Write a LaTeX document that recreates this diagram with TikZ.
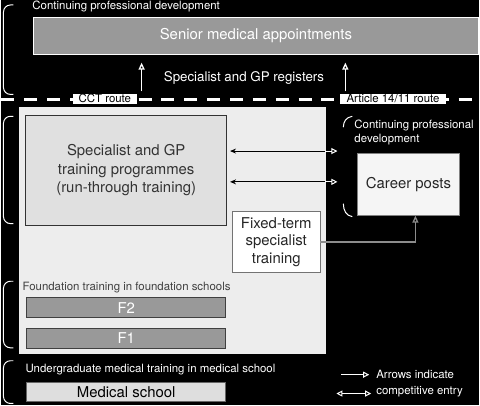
\documentclass[tikz,border=0pt]{standalone}
\usepackage{fontspec}
\setmainfont{TeX Gyre Heros}
\usetikzlibrary{positioning,arrows.meta}

\begin{document}
\begin{tikzpicture}[x=1pt, y=-1pt, node distance=10pt, font=\fontsize{15}{18.5}\selectfont]
    % Define styles
    \tikzstyle{bigbox} = [draw, rectangle, anchor=north west, inner sep=0pt, align=center, line width=1pt]
    \tikzstyle{fbox} = [bigbox, minimum width=200, minimum height=20, fill=black!40, draw=black!75, text=white]
    \tikzstyle{smalltext} = [inner sep=0pt, text=white!90, font=\fontsize{11.5}{14}\selectfont]
    \tikzstyle{routelabel} = [fill=white, text=black, inner sep=0pt, minimum height=10, text height=8, text depth=2, font=\fontsize{11.5}{14}\selectfont]
    \tikzstyle{bracketline} = [white!75, line width=1pt, rounded corners=7pt]
    \tikzstyle{uparrow} = [-{Triangle[open, length=7pt, width=6pt]}, white!90, line width=1.3pt]
    \tikzstyle{compleft} = [-{Stealth[length=6pt, width=5pt]}, black, line width=1pt]
    \tikzstyle{compright} = [-{Triangle[open, length=6pt, width=6pt]}, white!90, line width=1pt]
    \tikzstyle{entry} = [-{Triangle[open, length=7pt, width=6pt]}, black!45, line width=1.3pt]

    % Background
    \fill[black] (0,0) rectangle (480,408);

    % TOP: senior posts
    \draw[bracketline] (12,5) -- (2,5) -- (2,95) -- (12,95);
    \node (cpd_top) [smalltext, anchor=west] at (31,7) {Continuing professional development};
    \node (senior) [bigbox, fill=black!40, draw=white!70, text=white!85, minimum width=447, minimum height=37] at (32,17) {Senior medical appointments};
    \node (registers) [smalltext, font=\fontsize{13.4}{16}\selectfont] at (244,78) {Specialist and GP registers};

    % Route line
    \draw[white!85, line width=3pt, dash pattern=on 13pt off 10pt] (0,100) -- (480,100);
    \node (cct_route) [routelabel, minimum width=64] at (104,100) {CCT route};
    \node (art_route) [routelabel, minimum width=106] at (394,100) {Article 14/11 route};
    \coordinate (cct_start) at (141,92);
    \coordinate (art_start) at (346,92);
    \draw[uparrow, shorten >=8pt] (cct_start) -- (cct_start |- senior.south);
    \draw[uparrow, shorten >=8pt] (art_start) -- (art_start |- senior.south);

    % TRAINING PANEL
    \node (panel) [rectangle, anchor=north west, fill=black!7, minimum width=309, minimum height=249, inner sep=0pt] at (17,107) {};
    \draw[bracketline] (12,117) -- (2,117) -- (2,225) -- (12,225);
    \node (training) [bigbox, fill=black!12, draw=black!80, text=black!80, minimum width=202, minimum height=110] at (24,116) {Specialist and GP\\training programmes\\(run-through training)};
    \node (fixed) [bigbox, fill=white, draw=black!55, text=black!85, minimum width=88, minimum height=62, font=\fontsize{15}{17.5}\selectfont] at (232,212) {Fixed-term\\specialist\\training};

    % Career posts
    \node (cpd_right) [smalltext, align=left, anchor=north west, font=\fontsize{11.5}{14}\selectfont] at (355,121) {Continuing professional\\development};
    \draw[bracketline] (353,117) .. controls (347,118) and (344,122) .. (344,128);
    \draw[bracketline] (344,205) .. controls (344,212) and (347,217) .. (353,218);
    \node (career) [bigbox, fill=black!4, draw=black!50, text=black!85, minimum width=102, minimum height=62] at (358,154) {Career posts};

    % CONNECTIONS
    \coordinate (edge1) at (326,152);
    \coordinate (edge2) at (326,183);
    \draw[compleft, shorten >=3pt] (edge1) -- (training.east |- edge1);
    \draw[compright, shorten >=20pt] (edge1) -- (career.west |- edge1);
    \draw[compleft, shorten >=3pt] (edge2) -- (training.east |- edge2);
    \draw[compright, shorten >=20pt] (edge2) -- (career.west |- edge2);
    \draw[entry] (fixed.east) -| ([xshift=7pt]career.south);

    % FOUNDATION
    \draw[bracketline] (12,283) -- (2,283) -- (2,350) -- (12,350);
    \node (found_text) [smalltext, text=black!75, anchor=west] at (21,289) {Foundation training in foundation schools};
    \node (f2) [fbox] at (25,299) {F2};
    \node (f1) [fbox, below=of f2] {F1};

    % MEDICAL SCHOOL
    \draw[bracketline] (12,363) -- (2,363) -- (2,406) -- (12,406);
    \node (ug_text) [smalltext, anchor=west] at (24,372) {Undergraduate medical training in medical school};
    \node (medschool) [bigbox, fill=black!13, draw=black!60, text=black, minimum width=200, minimum height=20] at (25,384) {Medical school};

    % Legend
    \node (leg_text1) [smalltext, anchor=west] at (377,377) {Arrows indicate};
    \node (leg_text2) [smalltext, anchor=west] at (377,394) {competitive entry};
    \coordinate (leg1) at (342,377);
    \coordinate (leg2) at (337,396);
    \draw[compright, shorten >=7pt] (leg1) -- (leg_text1.west);
    \draw[{Triangle[open, length=6pt, width=6pt]}-{Triangle[open, length=6pt, width=6pt]}, white!90, line width=1pt, shorten >=5pt] (leg2) -- (leg_text2.west |- leg2);

\end{tikzpicture}
\end{document}
